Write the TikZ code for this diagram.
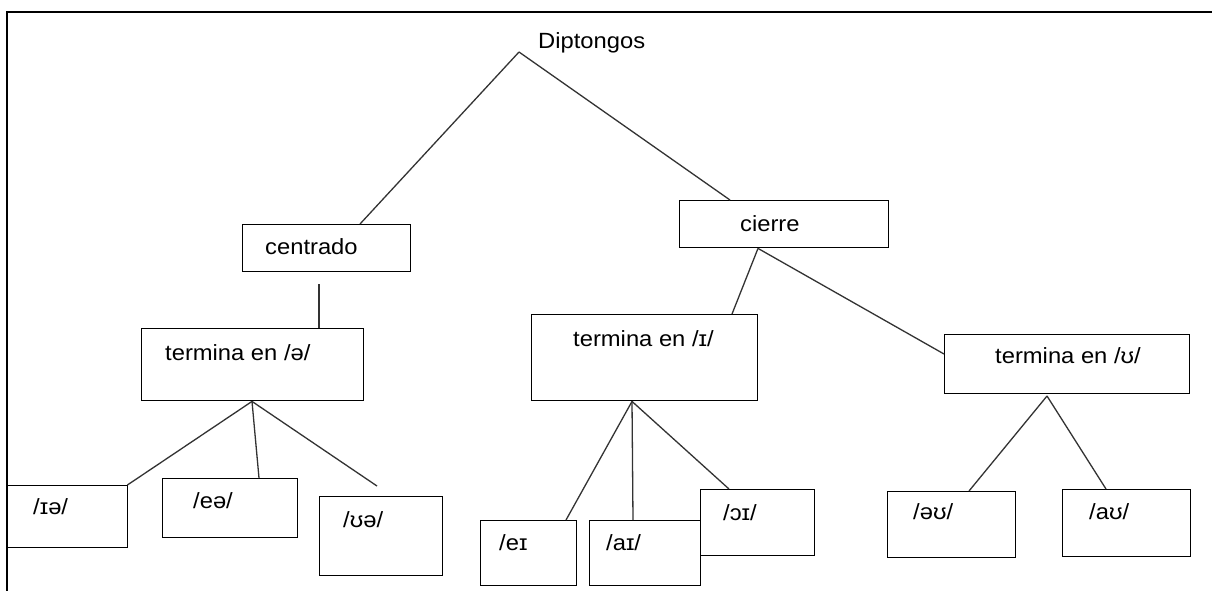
\documentclass[tikz,border=0pt]{standalone}
\usepackage{fontspec}
\setmainfont{Liberation Sans}[FakeStretch=1.08]
\usetikzlibrary{calc}
\begin{document}
\begin{tikzpicture}[x=1pt,y=-1pt,
  box/.style={draw=black,line width=1.4pt,fill=white,rectangle,inner sep=0pt,anchor=north west},
  lbl/.style={anchor=base west,inner sep=0pt,font=\fontsize{22}{26}\selectfont},
  link/.style={draw=black!80,line width=1.3pt}]
\useasboundingbox (0,0) rectangle (1212,590);
\fill[white] (0,0) rectangle (1212,590);
% outer frame
\draw[line width=2.6pt] (7,592) -- (7,12) -- (1214,12);

% root
\node[lbl] (dip) at (538,48) {Diptongos};
\coordinate (diptop) at (519,52);

% second level
\node[box,minimum width=168pt,minimum height=47pt] (cen) at (242,224) {};
\node[lbl] (cen-t) at (265,254) {centrado};
\node[box,minimum width=209pt,minimum height=47pt] (cie) at (679,200) {};
\node[lbl] (cie-t) at (740,231) {cierre};

% third level
\node[box,minimum width=222pt,minimum height=72pt] (tschwa) at (141,328) {};
\node[lbl] (tschwa-t) at (165,360) {termina en /ə/};
\node[box,minimum width=226pt,minimum height=86pt] (ti) at (531,314) {};
\node[lbl] (ti-t) at (573,346) {termina en /ɪ/};
\node[box,minimum width=245pt,minimum height=59pt] (tu) at (944,334) {};
\node[lbl] (tu-t) at (995,363) {termina en /ʊ/};

% leaves
\node[box,minimum width=120pt,minimum height=62pt] (ia) at (7,485) {};
\node[lbl] (ia-t) at (33,514) {/ɪə/};
\node[box,minimum width=135pt,minimum height=59pt] (ea) at (162,478) {};
\node[lbl] (ea-t) at (193,508) {/eə/};
\node[box,minimum width=123pt,minimum height=79pt] (ua) at (319,496) {};
\node[lbl] (ua-t) at (343,527) {/ʊə/};

\node[box,minimum width=96pt,minimum height=65pt] (ei) at (480,520) {};
\node[lbl] (ei-t) at (499,550) {/eɪ};
\node[box,minimum width=111pt,minimum height=65pt] (ai) at (589,520) {};
\node[lbl] (ai-t) at (606,550) {/aɪ/};
\node[box,minimum width=114pt,minimum height=66pt] (oi) at (700,489) {};
\node[lbl] (oi-t) at (723,520) {/ɔɪ/};

\node[box,minimum width=128pt,minimum height=66pt] (ou) at (887,491) {};
\node[lbl] (ou-t) at (913,519) {/əʊ/};
\node[box,minimum width=128pt,minimum height=67pt] (au) at (1062,489) {};
\node[lbl] (au-t) at (1089,519) {/aʊ/};

% free ends of connectors
\coordinate (cen-stub) at (319,284);
\coordinate (ua-stub) at (377,486);
\coordinate (tu-apex) at (1047,396);

% connectors
\draw[link] (diptop) -- ([xshift=118pt]cen.north west);
\draw[link] (diptop) -- ([xshift=51pt]cie.north west);
\draw[link] (cen-stub) -- ([xshift=178pt]tschwa.north west);
\draw[link] ([xshift=111pt]tschwa.south west) -- ([xshift=-1pt]ia.north east);
\draw[link] ([xshift=111pt]tschwa.south west) -- ([xshift=97pt]ea.north west);
\draw[link] ([xshift=111pt]tschwa.south west) -- (ua-stub);

\draw[link] ([xshift=79pt]cie.south west) -- ([xshift=201pt]ti.north west);
\draw[link] ([xshift=79pt]cie.south west) -- ([yshift=-20pt]tu.north west);

\draw[link] ([xshift=101pt]ti.south west) -- ([xshift=86pt]ei.north west);
\draw[link] ([xshift=101pt]ti.south west) -- ([xshift=44pt]ai.north west);
\draw[link] ([xshift=101pt]ti.south west) -- ([xshift=29pt]oi.north west);

\draw[link] (tu-apex) -- ([xshift=82pt]ou.north west);
\draw[link] (tu-apex) -- ([xshift=44pt]au.north west);
\end{tikzpicture}
\end{document}
